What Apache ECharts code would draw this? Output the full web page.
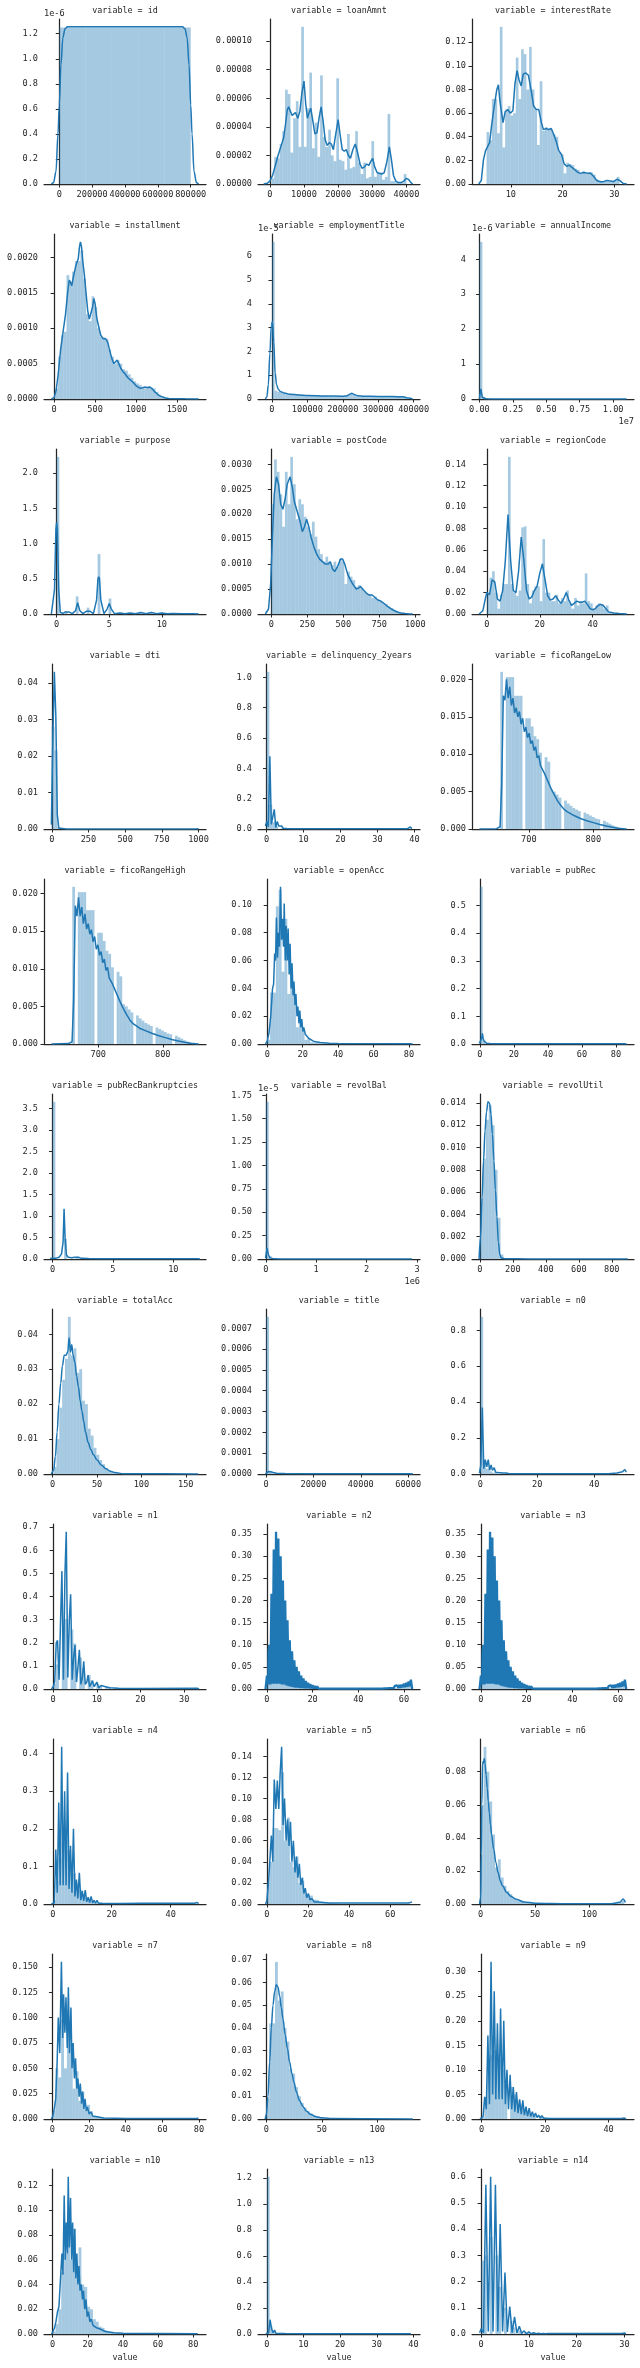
<!DOCTYPE html>
<html>
<head>
<meta charset="utf-8">
<script src="https://cdn.jsdelivr.net/npm/echarts@6/dist/echarts.min.js"></script>
<style>
html, body { margin: 0; padding: 0; background: #fff; }
#facet { width: 640px; height: 2368px; }
</style>
</head>
<body>
<div id="facet"></div>
<script>
// bins = [first edge, bin width]; hist = bar heights; kde = [x, y] points of the density line

// id (y in 1e-6)
const idBins = [0, 160000];
const idHist = [1.25, 1.25, 1.25, 1.25, 1.25];
const idKde = [[-48000,0],[-35000,0.01],[-20000,0.1],[-8000,0.4],[0,0.63],[10000,0.95],[22000,1.17],[35000,1.24],[50000,1.255],[750000,1.255],[765000,1.24],[778000,1.17],[790000,0.95],[800000,0.63],[808000,0.4],[820000,0.1],[835000,0.01],[848000,0]];

// loanAmnt (y in 1e-5)
const loanBins = [500, 790];
const loanHist = [0.4,1.9,1.8,2.8,3.7,6.6,6.3,2.2,4.6,5.8,2.6,11.0,2.6,5.3,7.8,2.5,4.3,1.9,7.6,3.3,2.6,3.8,2.0,1.6,7.4,1.7,1.6,1.0,3.5,1.1,1.2,3.7,1.5,0.7,1.5,0.4,0.5,3.0,0.5,0.8,0.8,0.3,0.5,4.9,0.2,0.2,0.1,0.1,0.1,0.7];
const loanKde = [[-1810,0],[-800,0.05],[0,0.2],[800,0.6],[1600,1.3],[2400,2.0],[3200,2.6],[4000,3.2],[4600,4.2],[5100,5.2],[5500,5.4],[6000,5.1],[6500,4.8],[7000,4.9],[7500,5.0],[8200,4.6],[8800,5.1],[9400,6.4],[10000,7.2],[10500,5.6],[11000,4.6],[11500,5.0],[12000,5.3],[12600,4.4],[13200,3.5],[13800,3.6],[14400,4.6],[15000,5.4],[15600,4.4],[16200,3.1],[16800,2.7],[17400,2.9],[18000,2.8],[18600,2.4],[19300,3.5],[20000,4.5],[20600,3.4],[21200,2.4],[21800,2.3],[22400,2.4],[23000,2.0],[23600,1.8],[24300,2.4],[25000,2.8],[25700,2.2],[26400,1.4],[27000,1.1],[27700,1.2],[28400,1.4],[29000,1.3],[29600,1.6],[30100,1.8],[30700,1.2],[31400,0.8],[32000,0.75],[32800,0.7],[33500,0.8],[34300,1.6],[35000,2.6],[35600,1.7],[36200,0.6],[36900,0.2],[37600,0.1],[38400,0.1],[39200,0.2],[40000,0.4],[40700,0.3],[41300,0.1],[41810,0]];

// interestRate
const rateBins = [5.31, 0.5136];
const rateHist = [0.044,0.037,0.072,0.072,0.043,0.133,0.031,0.063,0.066,0.058,0.060,0.107,0.072,0.114,0.110,0.080,0.116,0.080,0.063,0.033,0.087,0.045,0.048,0.047,0.046,0.042,0.040,0.027,0.025,0.009,0.018,0.017,0.016,0.013,0.012,0.009,0.011,0.009,0.010,0.010,0.008,0.004,0.003,0.002,0.002,0.002,0.002,0.003,0.003,0.006];
const rateKde = [[3.8,0],[4.3,0.003],[4.7,0.02],[5.1,0.028],[5.4,0.027],[5.9,0.035],[6.3,0.05],[6.8,0.066],[7.3,0.08],[7.6,0.084],[7.9,0.07],[8.5,0.052],[8.9,0.061],[9.4,0.063],[9.9,0.06],[10.4,0.062],[10.8,0.085],[11.2,0.096],[11.6,0.088],[12,0.083],[12.4,0.093],[12.9,0.094],[13.4,0.092],[13.9,0.08],[14.4,0.066],[14.9,0.063],[15.4,0.063],[15.9,0.052],[16.3,0.046],[16.8,0.047],[17.3,0.046],[17.8,0.047],[18.2,0.043],[18.7,0.037],[19.3,0.028],[19.8,0.025],[20.3,0.017],[20.8,0.015],[21.3,0.016],[21.8,0.014],[22.4,0.012],[22.9,0.010],[23.4,0.009],[23.9,0.0095],[24.4,0.0095],[24.9,0.009],[25.4,0.009],[25.9,0.007],[26.6,0.003],[27.2,0.002],[27.9,0.002],[28.5,0.003],[29.2,0.0025],[29.8,0.002],[30.5,0.004],[31,0.003],[31.7,0.0005],[32.4,0]];

// installment (y in 1e-3)
const instBins = [15.7, 34];
const instHist = [0.15,0.6,0.9,0.95,1.75,1.65,1.8,1.95,1.95,2.1,1.7,1.2,1.1,1.45,1.3,1.0,0.88,0.87,0.85,0.7,0.6,0.5,0.55,0.5,0.42,0.4,0.35,0.3,0.25,0.22,0.2,0.16,0.15,0.18,0.16,0.15,0.1,0.06,0.04,0.02,0.01,0.01,0.01,0.005,0.005,0.005,0.005,0.005,0.005,0.005];
const instKde = [[-33,0],[0,0.02],[25,0.12],[50,0.35],[80,0.7],[110,0.95],[140,1.2],[165,1.5],[185,1.68],[200,1.65],[215,1.6],[240,1.75],[270,1.9],[295,1.98],[310,2.15],[322,2.22],[335,2.15],[350,1.95],[370,1.75],[390,1.5],[410,1.25],[430,1.13],[450,1.15],[470,1.3],[485,1.42],[500,1.35],[520,1.15],[545,1.02],[570,0.9],[600,0.85],[630,0.85],[655,0.8],[680,0.68],[705,0.57],[730,0.5],[750,0.52],[770,0.55],[790,0.5],[815,0.43],[840,0.39],[870,0.35],[900,0.3],[930,0.27],[960,0.24],[990,0.2],[1020,0.17],[1050,0.15],[1080,0.16],[1110,0.17],[1140,0.16],[1170,0.17],[1200,0.14],[1230,0.1],[1260,0.07],[1290,0.045],[1320,0.03],[1360,0.015],[1400,0.008],[1500,0.004],[1600,0.002],[1700,0.001],[1764,0]];

// employmentTitle (y in 1e-5)
const empBins = [0, 7567];
const empHist = [6.6,0.35,0.3,0.27,0.25,0.24,0.22,0.21,0.2,0.19,0.18,0.17,0.16,0.16,0.15,0.15,0.14,0.14,0.13,0.13,0.13,0.12,0.12,0.12,0.12,0.12,0.12,0.12,0.15,0.22,0.16,0.12,0.11,0.11,0.1,0.1,0.1,0.1,0.1,0.1,0.1,0.1,0.1,0.09,0.09,0.09,0.09,0.09,0.08,0.08];
const empKde = [[-18600,0],[-14400,0.08],[-10200,0.6],[-6000,1.9],[-1800,3.1],[1500,3.25],[5000,2.4],[9000,1.1],[13000,0.6],[18000,0.4],[25000,0.3],[35000,0.25],[50000,0.2],[75000,0.17],[100000,0.15],[150000,0.13],[200000,0.12],[212000,0.14],[220000,0.2],[225000,0.24],[232000,0.19],[242000,0.14],[260000,0.12],[300000,0.11],[340000,0.1],[370000,0.09],[385000,0.04],[397000,0]];

// annualIncome (x in 1e7, y in 1e-6)
const incBins = [0, 0.022];
const incHist = [4.5,0.06,0.02,0.01,0.005,0.004,0.003,0.002,0.002,0.002];
const incKde = [[-0.0007,0.01],[0.0104,0.29],[0.0215,0.05],[0.0326,0.015],[0.0437,0.006],[0.06,0.004],[0.1,0.003],[0.3,0.002],[0.6,0.002],[1.0,0.002],[1.1006,0.001]];

// purpose
const purpBins = [0, 0.26];
const purpHist = [2.23,0,0,0.04,0,0,0,0.25,0,0,0,0.09,0,0,0,0.85,0,0,0,0.22,0,0,0,0.02,0,0,0.02,0,0,0,0.03,0,0,0,0.03,0,0,0,0.02,0,0,0,0.008,0,0,0,0.005,0,0,0.004];
const purpKde = [[-0.5,0],[-0.35,0.02],[-0.2,0.35],[-0.07,1.2],[0,1.3],[0.07,1.2],[0.2,0.35],[0.35,0.02],[0.6,0.01],[0.85,0.03],[1,0.035],[1.15,0.03],[1.5,0.005],[1.8,0.05],[2,0.16],[2.2,0.05],[2.5,0.005],[2.85,0.04],[3,0.055],[3.15,0.04],[3.5,0.005],[3.8,0.2],[3.93,0.5],[4,0.53],[4.07,0.5],[4.2,0.2],[4.5,0.005],[4.8,0.07],[5,0.15],[5.2,0.07],[5.5,0.005],[6,0.015],[6.5,0.003],[7,0.015],[7.5,0.003],[8,0.02],[8.5,0.003],[9,0.02],[9.5,0.003],[10,0.015],[10.5,0.003],[11,0.006],[12,0.004],[13,0.003],[13.5,0]];

// postCode (y in 1e-3)
const postBins = [0, 18.8];
const postHist = [2.2,3.1,2.85,2.4,1.75,2.85,2.2,3.15,2.6,1.9,2.3,2.2,1.95,1.75,1.6,1.85,1.55,1.3,1.2,1.05,1.15,1.05,0.98,1.05,0.95,1.1,1.05,0.6,0.85,0.75,0.68,0.55,0.58,0.52,0.45,0.4,0.4,0.32,0.35,0.28,0.25,0.22,0.2,0.15,0.12,0.08,0.05,0.03,0.02,0.01];
const postKde = [[-42,0],[-20,0.1],[-5,0.6],[8,1.6],[20,2.4],[35,2.75],[50,2.6],[65,2.2],[80,2.1],[95,2.3],[110,2.6],[130,2.75],[145,2.55],[160,2.25],[180,2.05],[200,1.85],[215,1.65],[230,1.75],[245,1.9],[260,1.75],[275,1.55],[295,1.35],[315,1.2],[335,1.1],[355,1.05],[375,1.0],[395,1.0],[410,1.05],[425,0.9],[440,0.85],[460,0.95],[480,1.1],[495,1.1],[510,1.0],[530,0.8],[550,0.68],[570,0.58],[590,0.5],[605,0.52],[620,0.55],[640,0.48],[660,0.42],[680,0.38],[700,0.38],[720,0.33],[740,0.28],[760,0.26],[780,0.22],[800,0.17],[820,0.13],[840,0.09],[860,0.06],[880,0.035],[900,0.02],[930,0.008],[960,0.002],[982,0]];

// regionCode
const regBins = [0, 1];
const regHist = [0.02,0.034,0.04,0.02,0.005,0.018,0.028,0.028,0.147,0.028,0.02,0.017,0.022,0.081,0.082,0.028,0.01,0.022,0.026,0.026,0.012,0.07,0.02,0.02,0.012,0.012,0.018,0.01,0.015,0.012,0.022,0.01,0.005,0.015,0.008,0.012,0.01,0.038,0.012,0.01,0.005,0.008,0.01,0.009,0.005,0.008,0.002,0.001,0.001,0.001];
const regKde = [[-2.9,0],[-1.5,0.003],[-0.5,0.015],[0,0.02],[1,0.018],[2,0.032],[3,0.03],[4,0.014],[5,0.012],[6,0.022],[7,0.05],[8,0.093],[9,0.05],[10,0.022],[11,0.02],[12,0.04],[13,0.072],[14,0.05],[15,0.022],[16,0.014],[17,0.016],[18,0.022],[19,0.026],[20,0.038],[21,0.047],[22,0.032],[23,0.017],[24,0.013],[25,0.014],[26,0.017],[27,0.013],[28,0.01],[29,0.014],[30,0.02],[31,0.013],[32,0.008],[33,0.01],[34,0.012],[35,0.011],[36,0.011],[37,0.012],[38,0.009],[39,0.005],[40,0.004],[41,0.005],[42,0.008],[43,0.009],[44,0.008],[45,0.005],[46,0.002],[48,0.001],[50,0.0005],[52.9,0]];

// dti
const dtiBins = [-1, 20];
const dtiHist = [0.028,0.0215,0.0004,0.0001];
const dtiKde = [[-2.6,0.0012],[7.5,0.025],[17.6,0.043],[27.7,0.031],[37.7,0.004],[47.8,0.0003],[57.9,0.0001],[100,0.00003],[980,0.00002],[990.5,0.0004],[1000.6,0.0001]];

// delinquency_2years
const delBins = [0, 0.78];
const delHist = [1.036,0.16,0.045,0.017,0,0.007,0.003,0.002,0.001];
const delKde = [[-0.3,0.02],[0.1,0.05],[0.5,0.015],[0.9,0.48],[1.3,0.03],[1.7,0.02],[2.1,0.13],[2.5,0.01],[2.9,0.05],[3.3,0.02],[3.7,0.015],[4.1,0.02],[4.5,0.005],[5,0.006],[5.5,0.003],[6,0.006],[7,0.002],[8,0.002],[10,0.001],[38,0.001],[38.5,0.004],[38.9,0.013],[39.3,0.002]];

// ficoRangeLow (y in 1e-3)
const ficoLBins = [630, 4.3];
const ficoLHist = [0,0,0,0,0,0.02,21.0,0,20.3,20.3,20.3,17.8,17.8,17.8,0,14.8,14.8,13.7,12.4,12.0,10.2,0,9.6,9.0,5.3,5.0,4.6,4.2,0,3.8,3.4,3.1,2.8,2.6,2.4,0,2.2,2.0,1.8,1.6,1.4,1.3,0,1.1,0.9,0.7,0.5,0.35,0.25,0.2];
const ficoLKde = [[623.5,0],[650,0.05],[655.5,0.3],[658,6],[660.5,17.8],[663,17.2],[665.5,20.0],[668,17.5],[670.5,19.0],[673,16.5],[675.5,17.5],[678,15.5],[680.5,16.2],[683,15.0],[685.5,15.7],[688,14.0],[690.5,14.8],[693,13.0],[695.5,13.6],[698,12.2],[700.5,12.8],[703,11.4],[705.5,11.8],[708,10.5],[710.5,11.0],[713,9.5],[715.5,9.8],[718,8.5],[720.5,8.6],[725,7.3],[730,6.3],[735,5.3],[740,4.5],[745,3.7],[750,3.1],[755,2.6],[760,2.3],[770,1.8],[780,1.4],[790,1.1],[800,0.85],[810,0.6],[820,0.4],[830,0.22],[840,0.08],[851.5,0]];

// ficoRangeHigh (y in 1e-3)
const ficoHBins = [634, 4.3];
const ficoHHist = [0,0,0,0,0,0.02,20.9,0,20.2,20.2,20.2,17.8,17.8,17.8,0,14.8,14.8,13.7,12.4,12.0,10.2,0,9.6,9.0,5.3,5.0,4.6,4.2,0,3.8,3.4,3.1,2.8,2.6,2.4,0,2.2,2.0,1.8,1.6,1.4,1.3,0,1.1,0.9,0.7,0.5,0.35,0.25,0.2];
const ficoHKde = [[627.5,0],[654,0.05],[659.5,0.3],[662,6],[664.5,18.4],[667,17.0],[669.5,19.5],[672,17.0],[674.5,18.2],[677,16.0],[679.5,17.3],[682,15.3],[684.5,16.0],[687,14.6],[689.5,15.2],[692,13.6],[694.5,14.3],[697,12.6],[699.5,13.2],[702,11.8],[704.5,12.3],[707,10.8],[709.5,11.3],[712,9.8],[714.5,10.2],[717,8.8],[719.5,9.0],[722,8.0],[724.5,7.8],[729,6.6],[734,5.6],[739,4.7],[744,3.9],[749,3.2],[754,2.7],[759,2.4],[764,2.1],[774,1.75],[784,1.4],[794,1.1],[804,0.85],[814,0.6],[824,0.4],[834,0.22],[844,0.08],[855.5,0]];

// openAcc
const openBins = [0, 1.62];
const openHist = [0.003,0.037,0.037,0.099,0.111,0.052,0.09,0.036,0.054,0.036,0.012,0.017,0.01,0.003,0.0043,0.0012,0.001,0.0008,0.0006,0.0005,0.0004,0.0003,0.0002,0.0002,0.0001];
const openKde = [[-1,0],[0,0.002],[1,0.008],[2,0.02],[3,0.04],[3.6,0.043],[4.2,0.065],[4.7,0.06],[5.2,0.091],[5.8,0.062],[6.3,0.08],[6.9,0.07],[7.5,0.113],[8.1,0.075],[8.6,0.09],[9.2,0.07],[9.6,0.101],[10.2,0.06],[10.7,0.085],[11.3,0.06],[11.8,0.083],[12.4,0.05],[12.9,0.072],[13.5,0.04],[14,0.058],[14.6,0.035],[15.1,0.045],[15.7,0.028],[16.2,0.036],[16.8,0.02],[17.3,0.027],[17.9,0.015],[18.4,0.024],[19,0.012],[19.5,0.018],[20.1,0.009],[20.6,0.012],[21.5,0.007],[22.5,0.006],[23.5,0.004],[24.5,0.003],[26,0.002],[28,0.0015],[30,0.001],[35,0.0005],[40,0.0003],[81,0.0002],[82,0]];

// pubRec
const pubBins = [0, 1.72];
const pubHist = [0.567,0.013,0.003,0.001,0.0005];
const pubKde = [[-0.3,0.002],[0.6,0.004],[1.1,0.02],[1.5,0.038],[2,0.02],[2.5,0.01],[3,0.006],[3.5,0.004],[4,0.003],[5,0.002],[6,0.0015],[8,0.001],[12,0.0007],[85,0.0005],[86,0.002],[86.3,0]];

// pubRecBankruptcies
const bankBins = [0, 0.24];
const bankHist = [3.66,0,0,0,0.47,0,0,0,0.035,0,0,0,0.01,0,0,0,0.003,0,0,0,0.002];
const bankKde = [[-0.2,0.01],[0,0.02],[0.3,0.02],[0.55,0.04],[0.75,0.12],[0.88,0.4],[0.96,1.17],[1.05,0.45],[1.15,0.1],[1.3,0.04],[1.6,0.03],[1.85,0.04],[2,0.07],[2.15,0.04],[2.4,0.015],[3,0.012],[4,0.008],[6,0.006],[12,0.004],[12.2,0]];

// revolBal (x in 1e6, y in 1e-5)
const balBins = [0, 0.0581];
const balHist = [1.68,0.03,0.005,0.002,0.001];
const balKde = [[-0.006,0.01],[0.0235,0.115],[0.053,0.045],[0.082,0.012],[0.112,0.004],[0.17,0.0015],[0.3,0.0005],[2.9,0.0003],[2.91,0]];

// revolUtil (y in 1e-3)
const utilBins = [0, 17.84];
const utilHist = [5.5,9.0,12.5,13.8,12.0,8.0,3.7,0.4,0.05,0.02,0.01];
const utilKde = [[-5,0],[4,2.0],[13,5.5],[22,8.8],[31,11.5],[40,13.2],[49,14.1],[58,14.0],[67,13.0],[76,11.2],[85,8.8],[94,6.2],[103,3.8],[112,1.5],[121,0.4],[130,0.1],[150,0.03],[300,0.01],[897,0]];

// totalAcc
const totBins = [1, 3.22];
const totHist = [0.002,0.01,0.019,0.027,0.033,0.045,0.034,0.036,0.029,0.03,0.021,0.02,0.013,0.011,0.0075,0.0055,0.004,0.0028,0.0017,0.0011,0.0007,0.0005,0.0003,0.0002,0.0001];
const totKde = [[-1.5,0],[1,0.001],[3,0.005],[5,0.012],[7,0.02],[9,0.026],[11,0.031],[13,0.034],[15,0.034],[17,0.035],[18.5,0.039],[20,0.035],[21.5,0.037],[23,0.034],[25,0.032],[27,0.028],[29,0.025],[31,0.021],[33,0.018],[35,0.015],[37,0.012],[40,0.009],[43,0.007],[46,0.0055],[50,0.004],[55,0.0025],[60,0.0015],[65,0.0008],[70,0.0004],[80,0.0001],[100,0.00005],[164,0]];

// title (y in 1e-4)
const ttlBins = [0, 1233.6];
const ttlHist = [7.55,0.1,0.03,0.02,0.01];
const ttlKde = [[-300,0],[300,0.05],[1000,0.12],[2000,0.11],[3000,0.07],[4500,0.04],[8000,0.02],[20000,0.01],[61000,0.01],[62000,0]];

// n0
const n0Bins = [0, 1.02];
const n0Hist = [0.875,0.065,0.03,0.015,0.008,0.005,0.003,0.002,0.0015,0.001];
const n0Kde = [[-0.3,0.005],[0.2,0.05],[0.72,0.37],[1.24,0.03],[1.76,0.08],[2.28,0.04],[2.8,0.08],[3.3,0.02],[3.8,0.05],[4.3,0.02],[4.9,0.035],[5.4,0.01],[5.9,0.02],[6.4,0.008],[7,0.012],[8,0.005],[9,0.006],[10,0.003],[12,0.002],[15,0.001],[40,0.0008],[45,0.002],[48,0.005],[50,0.013],[50.8,0.025],[51.3,0.01]];

// n1
const n1Bins = [0, 0.66];
const n1Hist = [0.023,0.106,0,0.258,0.303,0,0.258,0.197,0,0.136,0.091,0,0.06,0.038,0,0.023,0.015,0,0.009,0.006,0,0.004,0.003,0,0.002];
const n1Kde = [[-0.4,0],[0,0.01],[0.35,0.03],[0.7,0.2],[1.0,0.21],[1.35,0.04],[1.7,0.3],[2.0,0.51],[2.35,0.04],[2.7,0.5],[3.0,0.68],[3.35,0.05],[3.7,0.3],[4.0,0.41],[4.35,0.04],[4.7,0.14],[5.0,0.19],[5.35,0.03],[5.7,0.1],[6.0,0.17],[6.35,0.02],[6.7,0.05],[7.0,0.12],[7.35,0.02],[7.7,0.03],[8.0,0.06],[8.35,0.01],[9,0.035],[9.4,0.01],[10,0.03],[10.4,0.005],[11,0.015],[12,0.01],[13,0.005],[15,0.003],[20,0.002],[33,0.003],[33.4,0]];

// n2 (density line: peaks at whole numbers, dips half-way between)
const n2Bins = [0, 1.26];
const n2Hist = [0.091,0.087,0.099,0.19,0.079,0.066,0.052,0.07,0.022,0.016,0.012,0.015,0.005,0.004,0.003,0.004,0.002,0.0015,0.0012,0.0015,0.001,0.001,0.001,0.001,0.001,0.001,0.001,0.001,0.001,0.001,0.001,0.001,0.001,0.001,0.001,0.001,0.001,0.001,0.001,0.001,0.001,0.001,0.001,0.002,0.002,0.003,0.004,0.005,0.008,0.015];
const n2Peaks = [0.03,0.1,0.215,0.315,0.355,0.34,0.3,0.245,0.2,0.155,0.11,0.085,0.065,0.05,0.04,0.03,0.024,0.018,0.014,0.011,0.009,0.007,0.006,0.005,0.004,0.004,0.0035,0.003,0.003,0.003,0.003,0.003,0.003,0.003,0.003,0.003,0.003,0.003,0.003,0.003,0.003,0.003,0.003,0.003,0.003,0.003,0.003,0.003,0.003,0.003,0.0035,0.004,0.004,0.005,0.005,0.006,0.007,0.008,0.009,0.01,0.012,0.014,0.017,0.021];
const n2Dips = [0.01,0.01,0.012,0.012,0.012,0.012,0.01,0.01,0.008,0.006,0.005,0.004,0.003,0.003,0.002,0.002,0.0015,0.0015,0.0015,0.0015,0.001,0.001,0.001,0.001,0.001,0.001,0.001,0.001,0.001,0.001,0.001,0.001,0.001,0.001,0.001,0.001,0.001,0.001,0.001,0.001,0.001,0.001,0.001,0.001,0.001,0.001,0.001,0.001,0.001,0.001,0.001,0.0015,0.0015,0.002,0.002,0.002,0.0025,0.003,0.003,0.004,0.004,0.005,0.006];

// n3
const n3Bins = [0, 1.26];
const n3Hist = [0.091,0.087,0.099,0.19,0.079,0.066,0.052,0.07,0.022,0.016,0.012,0.015,0.005,0.004,0.003,0.004,0.002,0.0015,0.0012,0.0015,0.001,0.001,0.001,0.001,0.001,0.001,0.001,0.001,0.001,0.001,0.001,0.001,0.001,0.001,0.001,0.001,0.001,0.001,0.001,0.001,0.001,0.001,0.001,0.002,0.002,0.003,0.004,0.005,0.008,0.015];
const n3Peaks = [0.03,0.1,0.215,0.315,0.355,0.342,0.3,0.245,0.2,0.155,0.11,0.085,0.065,0.05,0.04,0.03,0.024,0.018,0.014,0.011,0.009,0.007,0.006,0.005,0.004,0.004,0.0035,0.003,0.003,0.003,0.003,0.003,0.003,0.003,0.003,0.003,0.003,0.003,0.003,0.003,0.003,0.003,0.003,0.003,0.003,0.003,0.003,0.003,0.003,0.003,0.0035,0.004,0.004,0.005,0.005,0.006,0.007,0.008,0.009,0.01,0.012,0.014,0.017,0.021];
const n3Dips = [0.01,0.01,0.012,0.012,0.012,0.012,0.01,0.01,0.008,0.006,0.005,0.004,0.003,0.003,0.002,0.002,0.0015,0.0015,0.0015,0.0015,0.001,0.001,0.001,0.001,0.001,0.001,0.001,0.001,0.001,0.001,0.001,0.001,0.001,0.001,0.001,0.001,0.001,0.001,0.001,0.001,0.001,0.001,0.001,0.001,0.001,0.001,0.001,0.001,0.001,0.001,0.001,0.0015,0.0015,0.002,0.002,0.002,0.0025,0.003,0.003,0.004,0.004,0.005,0.006];

// n4
const n4Bins = [0, 0.98];
const n4Hist = [0.01,0.061,0.122,0.163,0.163,0.143,0.112,0.082,0.056,0.038,0.026,0.017,0.011,0.007,0.005,0.003,0.002,0.0015,0.001,0.001];
const n4Peaks = [0.005,0.145,0.27,0.418,0.30,0.35,0.155,0.2,0.065,0.083,0.035,0.037,0.018,0.02,0.01,0.01,0.006,0.005,0.003,0.003,0.002,0.002,0.002,0.002,0.002];
const n4Dips = [0.003,0.03,0.05,0.05,0.05,0.04,0.03,0.02,0.015,0.01,0.008,0.006,0.004,0.003,0.002,0.002,0.002,0.001,0.001,0.001,0.001,0.001,0.001,0.001];
const n4Tail = [[30,0.002],[40,0.002],[48,0.002],[49,0.004],[49.5,0.001]];

// n5
const n5Bins = [0, 1.4];
const n5Hist = [0.02,0.04,0.072,0.072,0.07,0.125,0.06,0.082,0.04,0.035,0.045,0.02,0.022,0.01,0.008,0.008,0.004,0.004,0.002,0.0015,0.001,0.001,0.0008,0.0006,0.0005];
const n5Kde = [[-0.6,0],[0,0.003],[0.8,0.02],[1.5,0.02],[2.2,0.065],[2.9,0.04],[3.6,0.118],[4.4,0.09],[5.1,0.117],[5.8,0.09],[6.5,0.125],[7.2,0.149],[7.9,0.075],[8.6,0.1],[9.4,0.06],[10.1,0.08],[10.8,0.055],[11.5,0.078],[12.2,0.04],[12.9,0.06],[13.7,0.03],[14.4,0.045],[15.1,0.025],[15.8,0.038],[16.5,0.018],[17.3,0.025],[18,0.01],[18.7,0.015],[19.4,0.006],[20.2,0.01],[21,0.004],[22,0.005],[23,0.002],[25,0.002],[30,0.001],[69,0.001],[70.6,0.002]];

// n6
const n6Bins = [0, 2.64];
const n6Hist = [0.06,0.095,0.08,0.062,0.042,0.022,0.027,0.016,0.011,0.008,0.006,0.004,0.003,0.002,0.0015,0.001,0.0008,0.0006,0.0005,0.0004,0.0003,0.0003,0.0002,0.0002,0.0002,0.0002,0.0002,0.0002,0.0002,0.0002,0.0002,0.0002,0.0002,0.0002,0.0002,0.0002,0.0002,0.0002,0.0002,0.0002,0.0002,0.0002,0.0002,0.0002,0.0003,0.0004,0.0005,0.0008,0.001,0.002];
const n6Kde = [[-1,0],[0,0.004],[0.5,0.03],[1,0.06],[1.8,0.086],[2.5,0.085],[3.3,0.088],[4,0.085],[5,0.078],[6,0.07],[7,0.062],[8,0.055],[9,0.048],[10,0.042],[12,0.033],[14,0.025],[16,0.019],[18,0.014],[20,0.011],[24,0.007],[28,0.0045],[32,0.003],[40,0.0012],[50,0.0005],[80,0.0002],[120,0.0002],[128,0.001],[131,0.003],[133,0.001]];

// n7
const n7Bins = [0, 1.58];
const n7Hist = [0.008,0.05,0.041,0.098,0.05,0.092,0.074,0.03,0.047,0.018,0.027,0.0095,0.014,0.0076,0.0025,0.003,0.001,0.0012,0.0008,0.0006,0.0005,0.0004,0.0003,0.0003,0.0002];
const n7Kde = [[-0.6,0],[0.2,0.003],[1,0.01],[1.8,0.02],[2.6,0.058],[3.2,0.1],[4,0.065],[4.9,0.155],[5.6,0.08],[6.1,0.123],[6.8,0.085],[7.4,0.12],[8.1,0.07],[8.7,0.13],[9.3,0.065],[10.1,0.11],[10.7,0.05],[11.3,0.075],[12,0.04],[12.6,0.06],[13.3,0.03],[13.9,0.04],[14.6,0.022],[15.2,0.035],[15.9,0.015],[16.5,0.027],[17.2,0.01],[17.8,0.02],[18.5,0.008],[19.1,0.012],[20,0.005],[21,0.007],[22,0.003],[23,0.004],[25,0.002],[28,0.001],[40,0.0004],[79,0.0005],[79.6,0.001]];

// n8
const n8Bins = [0, 2.6];
const n8Hist = [0.009,0.042,0.042,0.069,0.052,0.056,0.04,0.034,0.022,0.02,0.014,0.01,0.007,0.005,0.0035,0.0025,0.0017,0.0012,0.0008,0.0005,0.0003,0.0002,0.0001];
const n8Kde = [[-1,0],[0,0.002],[1.5,0.01],[3,0.025],[4.5,0.04],[6,0.05],[7.5,0.056],[9,0.059],[10.5,0.058],[12,0.054],[13.5,0.049],[15,0.044],[17,0.037],[19,0.031],[21,0.025],[23,0.02],[25,0.016],[27,0.012],[30,0.008],[33,0.0055],[36,0.0035],[40,0.002],[45,0.001],[50,0.0005],[60,0.0002],[132,0]];

// n9
const n9Bins = [0, 0.9];
const n9Hist = [0.003,0.045,0.1,0.13,0.14,0.13,0.12,0.1,0.08,0,0.065,0.05,0.038,0.03,0.022,0.016,0.012,0.009,0.007,0,0.005,0.004,0.003,0.0025,0.002,0.0015,0.001,0.001,0.001,0,0.001];
const n9Peaks = [0.003,0.045,0.17,0.32,0.26,0.195,0.225,0.2,0.1,0.09,0.065,0.055,0.04,0.038,0.025,0.022,0.015,0.012,0.008,0.007,0.005,0.004,0.003,0.003,0.002,0.002];
const n9Dips = [0.005,0.02,0.03,0.05,0.04,0.04,0.04,0.03,0.02,0.02,0.015,0.012,0.01,0.008,0.006,0.005,0.004,0.003,0.002,0.002,0.001,0.001,0.001,0.001,0.001];
const n9Tail = [[30,0.001],[44,0.001],[45,0.002],[45.5,0]];

// n10
const n10Bins = [0, 1.64];
const n10Hist = [0.002,0.008,0.02,0.05,0.065,0.09,0.06,0.085,0.055,0.07,0.04,0.038,0.022,0.02,0.012,0.01,0.006,0.005,0.003,0.002,0.0015,0.001,0.0008,0.0006,0.0005];
const n10Kde = [[-0.6,0],[0.2,0.002],[1.1,0.005],[1.9,0.01],[2.8,0.018],[3.6,0.022],[4.4,0.022],[5.3,0.065],[5.9,0.048],[6.6,0.112],[7.2,0.06],[7.8,0.09],[8.4,0.065],[8.9,0.127],[9.5,0.07],[10.2,0.11],[10.8,0.06],[11.4,0.09],[12,0.05],[12.6,0.085],[13.2,0.045],[13.8,0.065],[14.4,0.04],[15,0.055],[15.6,0.035],[16.3,0.04],[17,0.028],[17.6,0.035],[18.3,0.02],[19,0.028],[19.7,0.014],[20.4,0.018],[21.2,0.01],[22,0.012],[23,0.007],[24,0.008],[25,0.005],[27,0.004],[30,0.002],[35,0.001],[40,0.0006],[82,0.0003],[82.6,0]];

// n13
const n13Bins = [0, 0.78];
const n13Hist = [1.21,0.06,0.012,0.004,0,0.002,0.001];
const n13Kde = [[-0.3,0.002],[0.1,0.005],[0.5,0.01],[0.9,0.11],[1.3,0.04],[1.7,0.01],[2.1,0.03],[2.5,0.005],[3,0.01],[4,0.004],[5,0.003],[10,0.002],[39,0.002],[39.3,0]];

// n14
const n14Bins = [0, 0.6];
const n14Hist = [0.28,0.3,0,0.37,0,0.3,0.18,0,0.1,0,0.05,0.025,0,0.013,0,0.007,0.004,0,0.002];
const n14Peaks = [0.02,0.57,0.6,0.57,0.42,0.235,0.105,0.065,0.03,0.012,0.008,0.005,0.003,0.002,0.002];
const n14Dips = [0.005,0.01,0.01,0.01,0.01,0.008,0.005,0.003,0.002,0.001,0.001,0.001,0.001,0.001];
const n14Tail = [[20,0.002],[29.5,0.002],[30,0.004],[30.3,0]];

// joins whole-number peaks and half-way dips into one density line
function zigzag(head, peaks, dips, tail) {
    var pts = head.slice();
    peaks.forEach(function (v, k) {
        pts.push([k, v]);
        if (k < dips.length) pts.push([k + 0.5, dips[k]]);
    });
    return pts.concat(tail);
}

const panels = [
    {name:'id', bins:idBins, hist:idHist, kde:idKde, xlim:[-93000,893000], xt:[0,200000,400000,600000,800000], xd:0, yt:[0,0.2,0.4,0.6,0.8,1.0,1.2], yd:1, ym:1, offTop:'1e-6', sm:true},
    {name:'loanAmnt', bins:loanBins, hist:loanHist, kde:loanKde, xlim:[-3470,43970], xt:[0,10000,20000,30000,40000], xd:0, yt:[0,2,4,6,8,10], yd:5, ym:1e-5},
    {name:'interestRate', bins:rateBins, hist:rateHist, kde:rateKde, xlim:[2.5,33.8], xt:[10,20,30], xd:0, yt:[0,0.02,0.04,0.06,0.08,0.10,0.12], yd:2, ym:1},
    {name:'installment', bins:instBins, hist:instHist, kde:instKde, xlim:[-123,1854], xt:[0,500,1000,1500], xd:0, yt:[0,0.5,1,1.5,2], yd:4, ym:1e-3},
    {name:'employmentTitle', bins:empBins, hist:empHist, kde:empKde, xlim:[-39400,417800], xt:[0,100000,200000,300000,400000], xd:0, yt:[0,1,2,3,4,5,6], yd:0, ym:1, offTop:'1e-5', sm:true},
    {name:'annualIncome', bins:incBins, hist:incHist, kde:incKde, xlim:[-0.0557,1.156], xt:[0,0.25,0.5,0.75,1.0], xd:2, yt:[0,1,2,3,4], yd:0, ym:1, offTop:'1e-6', offBot:'1e7'},
    {name:'purpose', bins:purpBins, hist:purpHist, kde:purpKde, xlim:[-1.2,14.2], xt:[0,5,10], xd:0, yt:[0,0.5,1,1.5,2], yd:1, ym:1},
    {name:'postCode', bins:postBins, hist:postHist, kde:postKde, xlim:[-93,1033], xt:[0,250,500,750,1000], xd:0, yt:[0,0.5,1,1.5,2,2.5,3], yd:4, ym:1e-3},
    {name:'regionCode', bins:regBins, hist:regHist, kde:regKde, xlim:[-5.6,55.6], xt:[0,20,40], xd:0, yt:[0,0.02,0.04,0.06,0.08,0.10,0.12,0.14], yd:2, ym:1},
    {name:'dti', bins:dtiBins, hist:dtiHist, kde:dtiKde, xlim:[-52.8,1050.8], xt:[0,250,500,750,1000], xd:0, yt:[0,0.01,0.02,0.03,0.04], yd:2, ym:1},
    {name:'delinquency_2years', bins:delBins, hist:delHist, kde:delKde, xlim:[-2.3,41.5], xt:[0,10,20,30,40], xd:0, yt:[0,0.2,0.4,0.6,0.8,1.0], yd:1, ym:1},
    {name:'ficoRangeLow', bins:ficoLBins, hist:ficoLHist, kde:ficoLKde, xlim:[612,863], xt:[700,800], xd:0, yt:[0,5,10,15,20], yd:3, ym:1e-3},
    {name:'ficoRangeHigh', bins:ficoHBins, hist:ficoHHist, kde:ficoHKde, xlim:[616,867], xt:[700,800], xd:0, yt:[0,5,10,15,20], yd:3, ym:1e-3},
    {name:'openAcc', bins:openBins, hist:openHist, kde:openKde, xlim:[-5.2,86.2], xt:[0,20,40,60,80], xd:0, yt:[0,0.02,0.04,0.06,0.08,0.10], yd:2, ym:1},
    {name:'pubRec', bins:pubBins, hist:pubHist, kde:pubKde, xlim:[-4.6,90.6], xt:[0,20,40,60,80], xd:0, yt:[0,0.1,0.2,0.3,0.4,0.5], yd:1, ym:1},
    {name:'pubRecBankruptcies', bins:bankBins, hist:bankHist, kde:bankKde, xlim:[-0.7,12.7], xt:[0,5,10], xd:0, yt:[0,0.5,1,1.5,2,2.5,3,3.5], yd:1, ym:1},
    {name:'revolBal', bins:balBins, hist:balHist, kde:balKde, xlim:[-0.155,3.06], xt:[0,1,2,3], xd:0, yt:[0,0.25,0.5,0.75,1,1.25,1.5,1.75], yd:2, ym:1, offTop:'1e-5', offBot:'1e6'},
    {name:'revolUtil', bins:utilBins, hist:utilHist, kde:utilKde, xlim:[-48,935], xt:[0,200,400,600,800], xd:0, yt:[0,2,4,6,8,10,12,14], yd:3, ym:1e-3, sm:true},
    {name:'totalAcc', bins:totBins, hist:totHist, kde:totKde, xlim:[-9.8,172.8], xt:[0,50,100,150], xd:0, yt:[0,0.01,0.02,0.03,0.04], yd:2, ym:1, sm:true},
    {name:'title', bins:ttlBins, hist:ttlHist, kde:ttlKde, xlim:[-3400,65000], xt:[0,20000,40000,60000], xd:0, yt:[0,1,2,3,4,5,6,7], yd:4, ym:1e-4},
    {name:'n0', bins:n0Bins, hist:n0Hist, kde:n0Kde, xlim:[-2.9,54], xt:[0,20,40], xd:0, yt:[0,0.2,0.4,0.6,0.8], yd:1, ym:1},
    {name:'n1', bins:n1Bins, hist:n1Hist, kde:n1Kde, xlim:[-2.1,35], xt:[0,10,20,30], xd:0, yt:[0,0.1,0.2,0.3,0.4,0.5,0.6,0.7], yd:1, ym:1},
    {name:'n2', bins:n2Bins, hist:n2Hist, kde:zigzag([[-0.6,0]], n2Peaks, n2Dips, [[63.6,0]]), xlim:[-3.9,67], xt:[0,20,40,60], xd:0, yt:[0,0.05,0.1,0.15,0.2,0.25,0.3,0.35], yd:2, ym:1, lw:2.3},
    {name:'n3', bins:n3Bins, hist:n3Hist, kde:zigzag([[-0.6,0]], n3Peaks, n3Dips, [[63.6,0]]), xlim:[-3.9,67], xt:[0,20,40,60], xd:0, yt:[0,0.05,0.1,0.15,0.2,0.25,0.3,0.35], yd:2, ym:1, lw:2.3},
    {name:'n4', bins:n4Bins, hist:n4Hist, kde:zigzag([[-0.5,0]], n4Peaks, n4Dips, n4Tail), xlim:[-3,52], xt:[0,20,40], xd:0, yt:[0,0.1,0.2,0.3,0.4], yd:1, ym:1},
    {name:'n5', bins:n5Bins, hist:n5Hist, kde:n5Kde, xlim:[-4.3,74.5], xt:[0,20,40,60], xd:0, yt:[0,0.02,0.04,0.06,0.08,0.10,0.12,0.14], yd:2, ym:1},
    {name:'n6', bins:n6Bins, hist:n6Hist, kde:n6Kde, xlim:[-8,141], xt:[0,50,100], xd:0, yt:[0,0.02,0.04,0.06,0.08], yd:2, ym:1, sm:true},
    {name:'n7', bins:n7Bins, hist:n7Hist, kde:n7Kde, xlim:[-4.6,83.8], xt:[0,20,40,60,80], xd:0, yt:[0,0.025,0.05,0.075,0.1,0.125,0.15], yd:3, ym:1},
    {name:'n8', bins:n8Bins, hist:n8Hist, kde:n8Kde, xlim:[-7.5,138.5], xt:[0,50,100], xd:0, yt:[0,0.01,0.02,0.03,0.04,0.05,0.06,0.07], yd:2, ym:1, sm:true},
    {name:'n9', bins:n9Bins, hist:n9Hist, kde:zigzag([[-0.5,0]], n9Peaks, n9Dips, n9Tail), xlim:[-3,48], xt:[0,20,40], xd:0, yt:[0,0.05,0.1,0.15,0.2,0.25,0.3], yd:2, ym:1},
    {name:'n10', bins:n10Bins, hist:n10Hist, kde:n10Kde, xlim:[-4.9,87.3], xt:[0,20,40,60,80], xd:0, yt:[0,0.02,0.04,0.06,0.08,0.10,0.12], yd:2, ym:1},
    {name:'n13', bins:n13Bins, hist:n13Hist, kde:n13Kde, xlim:[-2.4,41.8], xt:[0,10,20,30,40], xd:0, yt:[0,0.2,0.4,0.6,0.8,1.0,1.2], yd:1, ym:1},
    {name:'n14', bins:n14Bins, hist:n14Hist, kde:zigzag([[-0.3,0.005]], n14Peaks, n14Dips, n14Tail), xlim:[-1.9,32], xt:[0,10,20,30], xd:0, yt:[0,0.1,0.2,0.3,0.4,0.5,0.6], yd:1, ym:1}
];

const MONO = "'DejaVu Sans Mono', 'Liberation Mono', monospace";
const INK = '#262626';
const colLeft = [44, 258, 472];
const gridW = 162, gridH = 165, rowStep = 215, top0 = 19;

function renderBar(params, api) {
    var p0 = api.coord([api.value(0), 0]);
    var p1 = api.coord([api.value(1), api.value(2)]);
    return {
        type: 'rect',
        shape: { x: p0[0], y: p1[1], width: p1[0] - p0[0], height: p0[1] - p1[1] },
        style: { fill: 'rgba(31,119,180,0.4)' }
    };
}

var grids = [], xAxes = [], yAxes = [], series = [], texts = [];
var axisLine = { show: true, lineStyle: { color: INK, width: 1.25 } };
var labelStyle = { color: INK, fontSize: 8.6, fontFamily: MONO };

panels.forEach(function (p, i) {
    var r = Math.floor(i / 3), c = i % 3;
    var left = colLeft[c], top = top0 + r * rowStep;
    grids.push({ left: left, top: top, width: gridW, height: gridH, outerBoundsMode: 'none' });

    var peak = Math.max.apply(null, p.hist.concat(p.kde.map(function (d) { return d[1]; })));

    xAxes.push({
        type: 'value', gridIndex: i, min: p.xlim[0], max: p.xlim[1],
        axisLine: axisLine, splitLine: { show: false },
        axisTick: { show: true, customValues: p.xt, length: 3.5, lineStyle: { color: INK, width: 1 } },
        axisLabel: Object.assign({ customValues: p.xt, margin: 6, formatter: function (v) { return v.toFixed(p.xd); } }, labelStyle)
    });
    yAxes.push({
        type: 'value', gridIndex: i, min: 0, max: peak * 1.05,
        axisLine: axisLine, splitLine: { show: false },
        axisTick: { show: true, customValues: p.yt, length: 3.5, lineStyle: { color: INK, width: 1 } },
        axisLabel: Object.assign({ customValues: p.yt, margin: 6, formatter: function (v) { return (v * p.ym).toFixed(p.yd); } }, labelStyle)
    });

    series.push({
        type: 'custom', xAxisIndex: i, yAxisIndex: i, silent: true, clip: true,
        renderItem: renderBar, encode: { x: [0, 1], y: 2 },
        data: p.hist.map(function (h, j) {
            return [p.bins[0] + j * p.bins[1], p.bins[0] + (j + 1) * p.bins[1], h];
        })
    });
    series.push({
        type: 'line', xAxisIndex: i, yAxisIndex: i, silent: true,
        data: p.kde, showSymbol: false, symbol: 'none',
        smooth: p.sm ? 0.35 : false, smoothMonotone: 'x',
        lineStyle: { color: '#1f77b4', width: p.lw || 1.5 }
    });

    texts.push({ type: 'text', x: left + gridW / 2, y: top - 8,
        style: { text: 'variable = ' + p.name, align: 'center', verticalAlign: 'middle', fontSize: 8.4, fontFamily: MONO, fill: INK } });
    if (p.offTop) {
        texts.push({ type: 'text', x: left, y: top - 5,
            style: { text: p.offTop, align: 'left', verticalAlign: 'middle', fontSize: 8.6, fontFamily: MONO, fill: INK } });
    }
    if (p.offBot) {
        texts.push({ type: 'text', x: left + gridW, y: top + gridH + 23,
            style: { text: p.offBot, align: 'right', verticalAlign: 'middle', fontSize: 8.6, fontFamily: MONO, fill: INK } });
    }
    if (r === 10) {
        texts.push({ type: 'text', x: left + gridW / 2, y: top + gridH + 24,
            style: { text: 'value', align: 'center', verticalAlign: 'middle', fontSize: 8.4, fontFamily: MONO, fill: INK } });
    }
});

var chart = echarts.init(document.getElementById('facet'), null, { renderer: 'canvas' });
chart.setOption({
    animation: false,
    backgroundColor: '#ffffff',
    grid: grids,
    xAxis: xAxes,
    yAxis: yAxes,
    series: series,
    graphic: texts
});
window.addEventListener('resize', function () {
    chart.resize();
});
</script>
</body>
</html>
